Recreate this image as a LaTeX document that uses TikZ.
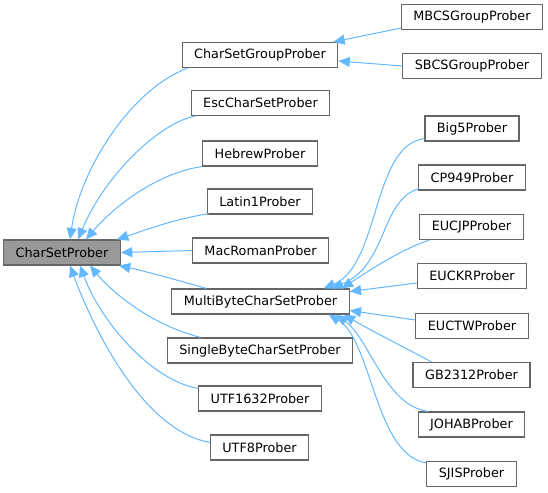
\documentclass[tikz,border=0pt]{standalone}
\usepackage{fontspec}
\setmainfont{DejaVu Sans}
\usepackage{tikz}
\usetikzlibrary{arrows.meta,calc}
\definecolor{inhblue}{HTML}{63B8FF}
\definecolor{boxgray}{HTML}{666666}
\definecolor{basegray}{HTML}{999999}
\tikzset{
  cls/.style={rectangle, draw=boxgray, line width=0.9pt, fill=white,
              font=\fontsize{9.6pt}{11pt}\selectfont, inner xsep=9pt,
              minimum height=18.75pt},
  basecls/.style={cls, fill=basegray},
  inh/.style={-{Triangle[length=8.5pt,width=7.5pt]}, line width=0.75pt, draw=inhblue},
}
\begin{document}
\begin{tikzpicture}[x=0.75pt,y=-0.75pt]
  \useasboundingbox (0,0) rectangle (548,492);
  % base class
  \node[basecls] (csp) at (62,252.5) {CharSetProber};
  % direct subclasses
  \node[cls] (cgp) at (260,55) {CharSetGroupProber};
  \node[cls] (esc) at (260.5,103) {EscCharSetProber};
  \node[cls] (heb) at (260,153.5) {HebrewProber};
  \node[cls] (lat) at (260,201.5) {Latin1Prober};
  \node[cls] (mac) at (260.5,250.5) {MacRomanProber};
  \node[cls] (mbc) at (260.5,301.5) {MultiByteCharSetProber};
  \node[cls] (sbc) at (260,350.5) {SingleByteCharSetProber};
  \node[cls] (u16) at (260,398.5) {UTF1632Prober};
  \node[cls] (u8) at (259.5,447.5) {UTF8Prober};
  % group probers
  \node[cls] (mbcs) at (472,17) {MBCSGroupProber};
  \node[cls] (sbcs) at (472,66) {SBCSGroupProber};
  % multi byte probers
  \node[cls] (big5) at (472,128.5) {Big5Prober};
  \node[cls] (cp949) at (472,177.5) {CP949Prober};
  \node[cls] (eucjp) at (471.5,227) {EUCJPProber};
  \node[cls] (euckr) at (472,276) {EUCKRProber};
  \node[cls] (euctw) at (472,326) {EUCTWProber};
  \node[cls] (gb) at (471.5,375) {GB2312Prober};
  \node[cls] (johab) at (471.5,424.5) {JOHABProber};
  \node[cls] (sjis) at (471.5,474) {SJISProber};

  \draw[inh] ($(cgp.south west)+(6,0)$) .. controls (130,90) and (80,170) .. ($(csp.north)+(8,0)$);
  \draw[inh] ($(esc.south west)+(5,0)$) .. controls (160,122) and (105,175) .. ($(csp.north)+(16,0)$);
  \draw[inh] (heb.south west) .. controls (160,172) and (115,205) .. ($(csp.north)+(24,0)$);
  \draw[inh] ($(lat.south west)+(2,-1)$) .. controls (170,220) and (140,232) .. ($(csp.north east)+(-4,0)$);
  \draw[inh] (mac.west) -- (csp.east);
  \draw[inh] ($(mbc.north west)+(35,0)$) .. controls (170,278) and (140,270) .. ($(csp.south east)+(-2,0)$);
  \draw[inh] ($(sbc.north west)+(34,0)$) .. controls (150,325) and (110,290) .. ($(csp.south)+(28,0)$);
  \draw[inh] ($(u16.north west)+(0,3)$) .. controls (150,380) and (100,320) .. ($(csp.south)+(18,0)$);
  \draw[inh] ($(u8.north west)+(0,8)$) .. controls (140,430) and (90,320) .. ($(csp.south)+(8,0)$);

  \draw[inh] ($(mbcs.south west)+(0,-2)$) -- ($(cgp.north east)+(-5,0)$);
  \draw[inh] (sbcs.west) -- ($(cgp.east)+(0,6)$);

  \draw[inh] ($(big5.south west)+(0,-3)$) .. controls (372,145) and (380,265) .. ($(mbc.north east)+(-26,0)$);
  \draw[inh] ($(cp949.south west)+(1,-2)$) .. controls (380,200) and (388,265) .. ($(mbc.north east)+(-18,0)$);
  \draw[inh] ($(eucjp.south west)+(10,0)$) .. controls (400,250) and (370,270) .. ($(mbc.north east)+(-8,0)$);
  \draw[inh] ($(euckr.west)+(0,7)$) -- ($(mbc.east)+(0,-10)$);
  \draw[inh] ($(euctw.west)+(0,-6)$) -- ($(mbc.east)+(0,9)$);
  \draw[inh] ($(gb.north west)+(19,0)$) .. controls (400,345) and (370,330) .. ($(mbc.south east)+(-6,0)$);
  \draw[inh] ($(johab.north west)+(10,0)$) .. controls (385,405) and (370,340) .. ($(mbc.south east)+(-13,0)$);
  \draw[inh] ($(sjis.north west)+(0,2)$) .. controls (375,455) and (372,340) .. ($(mbc.south east)+(-21,0)$);
\end{tikzpicture}
\end{document}
